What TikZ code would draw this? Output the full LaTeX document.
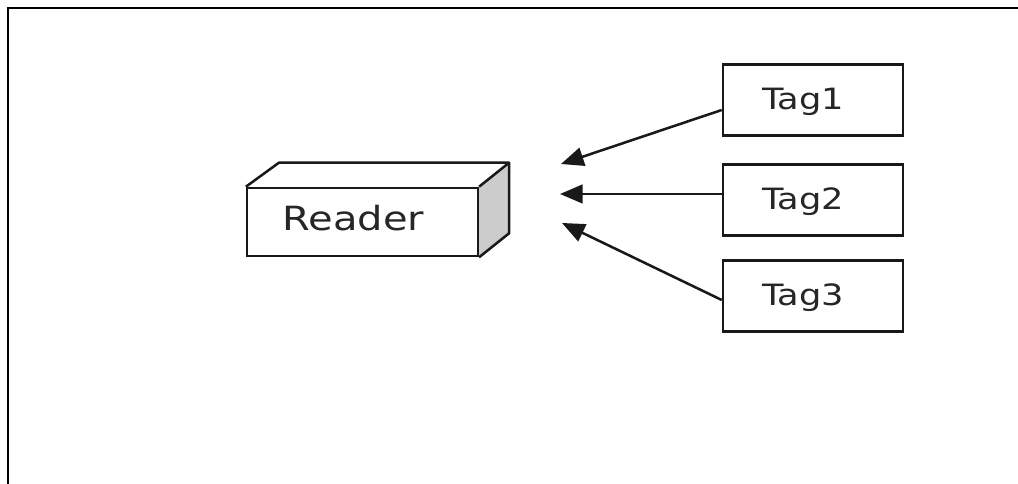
\documentclass[tikz,border=0pt]{standalone}
\usepackage{fontspec}
\newfontfamily\diagfont[FakeStretch=1.2]{DejaVu Sans}
\usetikzlibrary{arrows.meta,calc}

\tikzset{
  px/.style={line width=1.9pt},
  box/.style={draw=black!90, px, fill=white, rectangle, inner sep=0pt},
  tagbox/.style={box, minimum width=135pt, minimum height=53pt},
  tagtext/.style={font=\diagfont\fontsize{22}{26}\selectfont, text=black!85, inner sep=0pt},
  readtext/.style={font=\diagfont\fontsize{25}{29}\selectfont, text=black!85, inner sep=0pt},
  link/.style={draw=black!90, px, -{Triangle[length=17pt,width=14pt]}},
}

\begin{document}
\begin{tikzpicture}[x=0.75pt,y=-0.75pt]
\useasboundingbox (0,0) rectangle (1018,484);

% outer frame (top and left rules)
\draw[line width=2.2pt] (8,484) -- (8,8) -- (1018,8);

% reader: front face with top and side faces
\node[box, minimum width=173pt, minimum height=51pt] (reader) at (362.5,222) {};
\fill[black!20] (reader.north east) -- ($(reader.north east)+(30,-24)$)
      -- ($(reader.south east)+(30,-24)$) -- (reader.south east) -- cycle;
\draw[px, draw=black!90, line join=round] (reader.north west) -- ($(reader.north west)+(33,-24)$)
      -- ($(reader.north east)+(30,-24)$) -- (reader.north east);
\draw[px, draw=black!90, line join=round] ($(reader.north east)+(30,-24)$)
      -- ($(reader.south east)+(30,-24)$) -- (reader.south east);
\node[readtext] at ($(reader.center)+(-9,-4)$) {Reader};

% tags
\node[tagbox] (t1) at (813,100) {};
\node[tagbox] (t2) at (813,200) {};
\node[tagbox] (t3) at (813,296) {};
\node[tagtext] at ($(t1.center)+(-10,2)$) {Tag1};
\node[tagtext] at ($(t2.center)+(-10,2)$) {Tag2};
\node[tagtext] at ($(t3.center)+(-10,2)$) {Tag3};

% arrow tips near the reader
\coordinate (a1) at (561,164);
\coordinate (a2) at (560,194);
\coordinate (a3) at (562,223);

\draw[link] ($(t1.west)+(0,10)$) -- (a1);
\draw[link] ($(t2.west)+(0,-6)$) -- (a2);
\draw[link] ($(t3.west)+(0,4)$) -- (a3);
\end{tikzpicture}
\end{document}
